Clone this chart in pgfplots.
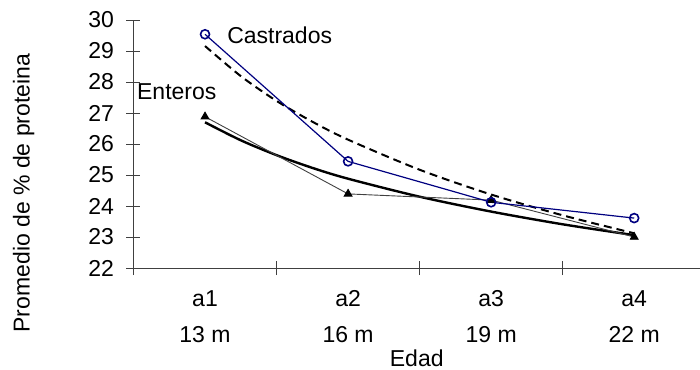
\documentclass[border=0pt]{standalone}
\usepackage{pgfplots}
\pgfplotsset{compat=1.18}
\usepackage{fontspec}
\setmainfont{Liberation Sans}
\definecolor{navyb}{RGB}{0,0,128}
\definecolor{axgray}{RGB}{64,64,64}
\definecolor{entgray}{RGB}{64,64,64}
\begin{document}
\begin{tikzpicture}
\begin{axis}[
  name=ax,
  scale only axis, width=566.5pt, height=248pt,
  xmin=0.5, xmax=4.46, ymin=22, ymax=30,
  axis x line=bottom, axis y line=left,
  axis line style={-, draw=axgray, line width=0.8pt},
  ytick={22,23,24,25,26,27,28,29,30},
  xtick={0.5,1.5,2.5,3.5},
  xticklabels={,,,},
  extra x ticks={1,2,3,4},
  extra x tick labels={{a1\\13 m},{a2\\16 m},{a3\\19 m},{a4\\22 m}},
  extra x tick style={major tick length=0pt},
  tick align=center,
  major tick length=14pt,
  tick style={axgray, line width=0.8pt},
  font=\fontsize{23}{36}\selectfont,
  xticklabel style={align=center, font=\fontsize{23}{36}\selectfont, anchor=north, yshift=-19pt},
  yticklabel style={font=\fontsize{23}{28}\selectfont, xshift=-9pt},
  /pgf/number format/assume math mode=true,
  ylabel={Promedio de \% de proteina},
  ylabel style={at={(axis description cs:-0.194,0.302)}, anchor=center, font=\fontsize{23}{28}\selectfont},
  xlabel={Edad},
  xlabel style={at={(axis description cs:0.5,-0.398)}, anchor=base, font=\fontsize{23}{28}\selectfont},
  clip=false,
]
% trend lines
\addplot[black, line width=2pt, dash pattern=on 8pt off 5pt, smooth] coordinates {
  (1,29.16) (1.25,28.19) (1.5,27.39) (1.75,26.72) (2,26.14) (2.5,25.17) (3,24.37) (3.5,23.70) (4,23.12)};
\addplot[black, line width=2.4pt, smooth] coordinates {
  (1,26.70) (1.25,26.12) (1.5,25.64) (1.75,25.23) (2,24.88) (2.5,24.30) (3,23.82) (3.5,23.41) (4,23.06)};
% Enteros
\addplot[entgray, line width=0.9pt, mark=triangle*, mark size=4.5pt, mark options={black, fill=black, solid}] coordinates {
  (1,26.88) (2,24.39) (3,24.19) (4,23.00)};
% Castrados
\addplot[navyb, line width=1.2pt, mark=o, mark size=4.5pt, mark options={navyb, fill=white, line width=1.6pt}] coordinates {
  (1,29.54) (2,25.44) (3,24.12) (4,23.61)};
\node[anchor=base west, inner sep=0pt, font=\fontsize{23}{28}\selectfont] at (axis cs:1.154,29.23) {Castrados};
\node[anchor=base west, inner sep=0pt, font=\fontsize{23}{28}\selectfont] at (axis cs:0.524,27.42) {Enteros};
\end{axis}
\pgfresetboundingbox
\path[use as bounding box] ([xshift=-133.5pt,yshift=-102pt]ax.south west) rectangle ([yshift=20pt]ax.north east);
\end{tikzpicture}
\end{document}
